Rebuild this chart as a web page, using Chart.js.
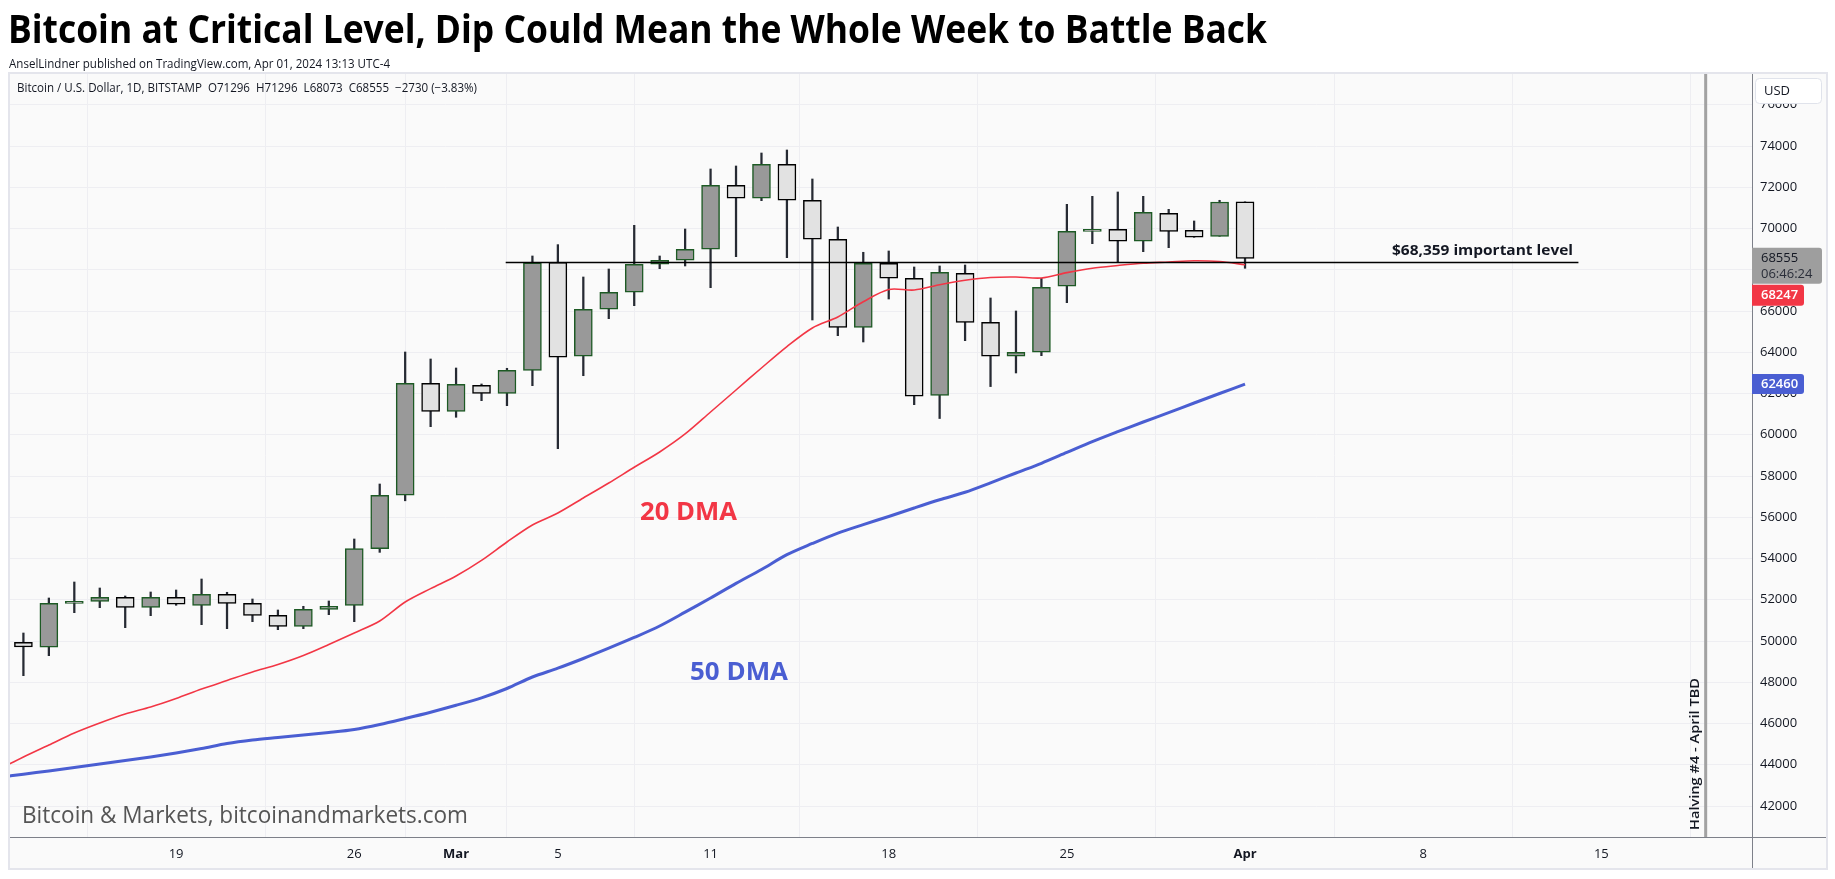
<!DOCTYPE html>
<html>
<head>
<meta charset="utf-8">
<script src="https://cdn.jsdelivr.net/npm/chart.js@4.4.1/dist/chart.umd.min.js"></script>
<style>
html, body { margin: 0; padding: 0; background: #fff; overflow: hidden; }
canvas { display: block; }
</style>
</head>
<body>
<canvas id="chart" width="1835" height="879"></canvas>
<script>
// daily candles, BTC/USD Bitstamp, Feb 13 -> Apr 1 2024 (x = day index)
const dates = ['Feb 13','Feb 14','Feb 15','Feb 16','Feb 17','Feb 18','Feb 19','Feb 20','Feb 21','Feb 22',
  'Feb 23','Feb 24','Feb 25','Feb 26','Feb 27','Feb 28','Feb 29','Mar 1','Mar 2','Mar 3','Mar 4','Mar 5',
  'Mar 6','Mar 7','Mar 8','Mar 9','Mar 10','Mar 11','Mar 12','Mar 13','Mar 14','Mar 15','Mar 16','Mar 17',
  'Mar 18','Mar 19','Mar 20','Mar 21','Mar 22','Mar 23','Mar 24','Mar 25','Mar 26','Mar 27','Mar 28',
  'Mar 29','Mar 30','Mar 31','Apr 1'];
const opens = [49939, 49697, 51830, 51927, 52121, 51636, 52121, 51733, 52267, 51830,
  51248, 50715, 51539, 51733, 54478, 57067, 62497, 61139, 62400, 62012, 63127, 68364,
  63806, 66085, 66909, 68267, 68461, 68994, 72097, 71467, 73115, 71370, 69479, 65212,
  68315, 67588, 61915, 67830, 65454, 63806, 64000, 67200, 69866, 69963, 69382,
  70740, 69914, 69624, 71296];
const highs = [50390, 52087, 52863, 52572, 52184, 52378, 52475, 53008, 52364, 52039,
  51505, 51685, 51942, 54948, 57614, 64014, 63675, 63239, 62464, 63224, 68670, 69220,
  67651, 68039, 70157, 68669, 69978, 72888, 73033, 73663, 73809, 72403, 70075, 68849,
  68912, 68136, 68185, 68233, 66633, 66003, 67588, 71175, 71563, 71773, 71563,
  70933, 70367, 71370, 71296];
const lows = [48320, 49290, 51375, 51617, 50647, 51229, 51733, 50793, 50599, 50938,
  50550, 50599, 51278, 50938, 54300, 56800, 60393, 60849, 61653, 61411, 62381, 59326,
  62865, 65629, 66259, 68054, 68185, 67132, 68635, 71351, 68587, 65566, 64805, 64500,
  66584, 61460, 60789, 64563, 62337, 62997, 63836, 66405, 69266, 68364, 68878,
  69072, 69576, 69624, 68073];
const closes = [49712, 51830, 51927, 52121, 51636, 52121, 51782, 52267, 51830, 51248,
  50715, 51539, 51685, 54478, 57067, 62497, 61139, 62449, 62012, 63127, 68340, 63758,
  66085, 66909, 68267, 68461, 68994, 72097, 71467, 73115, 71370, 69479, 65212, 68315,
  67588, 61867, 67879, 65454, 63806, 64000, 67151, 69866, 69963, 69382, 70788,
  69866, 69576, 71285, 68555];

// moving averages start one day earlier (Feb 12, x = -1)
const ma20 = [43762, 44378, 44960, 45542, 46027, 46463, 46802, 47215, 47675, 48087,
  48499, 48863, 49299, 49833, 50390, 50972, 51893, 52543, 53154, 53910, 54802, 55627,
  56209, 56936, 57663, 58424, 59166, 60039, 61105, 62172, 63239, 64276, 65178, 65712,
  66453, 67045, 67021, 67278, 67491, 67627, 67651, 67603, 67864, 68078, 68209, 68320,
  68378, 68441, 68403, 68247];
const ma50 = [43384, 43544, 43699, 43869, 44039, 44208, 44378, 44572, 44790, 45033,
  45202, 45324, 45445, 45566, 45712, 45954, 46245, 46550, 46885, 47248, 47699, 48257,
  48684, 49154, 49653, 50172, 50730, 51399, 52087, 52795, 53469, 54187, 54730, 55234,
  55646, 56039, 56451, 56849, 57212, 57668, 58148, 58618, 59142, 59665, 60150, 60621,
  61076, 61542, 62003, 62458];

const levelPrice = 68359;
const levelFrom = 18.95, levelTo = 61.1;
const halvingX = 66.1;

const xTickIdx = [6, 13, 17, 21, 27, 34, 41, 48, 55, 62];
const xTickLabels = ['19', '26', 'Mar', '5', '11', '18', '25', 'Apr', '8', '15'];
const yTicks = [42000, 44000, 46000, 48000, 50000, 52000, 54000, 56000, 58000,
  60000, 62000, 64000, 66000, 68000, 70000, 72000, 74000, 76000];

const FONT = "'Open Sans', sans-serif";
const UP_FILL = '#999999', UP_LINE = '#1d5a24';
const DN_FILL = '#e2e2e2', DN_LINE = '#000000';
const RED = '#f23645', BLUE = '#4a5ed2';

const last = closes.length - 1;
const chg = closes[last] - closes[last - 1];
const pct = (chg / closes[last - 1] * 100).toFixed(2);
const sign = v => (v < 0 ? '\u2212' + Math.abs(v) : '+' + v);

function fitText(ctx, text, x, y, font, width, color, align, baseline) {
    ctx.save();
    ctx.font = font;
    ctx.fillStyle = color;
    ctx.textAlign = 'left';
    ctx.textBaseline = baseline || 'alphabetic';
    const w = ctx.measureText(text).width;
    const sx = width ? width / w : 1;
    let left = x;
    if (align === 'right') left = x - w * sx;
    if (align === 'center') left = x - w * sx / 2;
    ctx.translate(left, y);
    ctx.scale(sx, 1);
    ctx.fillText(text, 0, 0);
    ctx.restore();
}

const backdrop = {
    id: 'backdrop',
    beforeDraw(chart) {
        const ctx = chart.ctx;
        ctx.save();
        ctx.fillStyle = '#ffffff';
        ctx.fillRect(0, 0, chart.width, chart.height);
        ctx.fillStyle = '#fafafa';
        ctx.fillRect(10, 74, 1816, 794);
        ctx.strokeStyle = '#e4e5ec';
        ctx.lineWidth = 2;
        ctx.strokeRect(9, 73, 1818, 796);
        ctx.restore();
    }
};

const overlay = {
    id: 'overlay',
    afterDraw(chart) {
        const ctx = chart.ctx;
        const xs = chart.scales.x, ys = chart.scales.y;
        const area = chart.chartArea;

        // axis borders
        ctx.save();
        ctx.fillStyle = '#7d8089';
        ctx.fillRect(area.right, area.top, 1, 868 - area.top);
        ctx.fillRect(10, area.bottom, 1816, 1);

        // halving marker
        const hx = xs.getPixelForValue(halvingX);
        ctx.fillStyle = '#a2a2a2';
        ctx.fillRect(hx - 1.5, area.top, 3, area.bottom - area.top);
        ctx.save();
        ctx.translate(hx - 10, 754);
        ctx.rotate(-Math.PI / 2);
        fitText(ctx, 'Halving #4 - April TBD', 0, 0, '600 13px ' + FONT, 152, '#131722', 'center', 'middle');
        ctx.restore();

        // level label
        const ly = ys.getPixelForValue(levelPrice);
        fitText(ctx, '$68,359 important level', 1573, ly - 7, 'bold 14px ' + FONT, 181, '#131722', 'right');

        // MA labels
        fitText(ctx, '20 DMA', 640, 520, 'bold 25px ' + FONT, 97, RED, 'left');
        fitText(ctx, '50 DMA', 690, 680, 'bold 25px ' + FONT, 98, BLUE, 'left');

        // watermark
        fitText(ctx, 'Bitcoin & Markets, bitcoinandmarkets.com', 22, 823, '23px ' + FONT, 446, '#555555', 'left');

        // header texts
        fitText(ctx, 'Bitcoin at Critical Level, Dip Could Mean the Whole Week to Battle Back', 8, 43,
            'bold 40px ' + FONT, 1259, '#000000', 'left');
        fitText(ctx, 'AnselLindner published on TradingView.com, Apr 01, 2024 13:13 UTC-4', 9, 68,
            '12px ' + FONT, 381, '#131722', 'left');
        const info = 'Bitcoin / U.S. Dollar, 1D, BITSTAMP  O' + opens[last] + '  H' + highs[last] +
            '  L' + lows[last] + '  C' + closes[last] + '  ' + sign(chg) + ' (' + sign(pct) + '%)';
        fitText(ctx, info, 17, 92, '12px ' + FONT, 460, '#131722', 'left');

        // price axis tags
        const ax = area.right;
        const cy = ys.getPixelForValue(closes[last]);
        ctx.fillStyle = '#9e9e9e';
        ctx.beginPath();
        ctx.roundRect(ax, cy - 10.5, 70, 36, [0, 3, 3, 0]);
        ctx.fill();
        fitText(ctx, String(closes[last]), ax + 9, cy, '13px ' + FONT, 0, '#131722', 'left', 'middle');
        fitText(ctx, '06:46:24', ax + 9, cy + 16, '13px ' + FONT, 0, '#2a2e39', 'left', 'middle');

        const rTop = cy + 26.5;
        ctx.fillStyle = RED;
        ctx.beginPath();
        ctx.roundRect(ax, rTop, 52, 21, [0, 3, 3, 0]);
        ctx.fill();
        fitText(ctx, String(ma20[ma20.length - 1]), ax + 9, rTop + 10.5, '600 13px ' + FONT, 0, '#ffffff', 'left', 'middle');

        const by = ys.getPixelForValue(ma50[ma50.length - 1]);
        ctx.fillStyle = BLUE;
        ctx.beginPath();
        ctx.roundRect(ax, by - 10, 52, 20, [0, 3, 3, 0]);
        ctx.fill();
        fitText(ctx, String(62460), ax + 9, by, '600 13px ' + FONT, 0, '#ffffff', 'left', 'middle');

        // currency box
        ctx.fillStyle = '#ffffff';
        ctx.strokeStyle = '#e0e3eb';
        ctx.lineWidth = 1;
        ctx.beginPath();
        ctx.roundRect(1755.5, 78.5, 66, 25, 4);
        ctx.fill();
        ctx.stroke();
        fitText(ctx, 'USD', 1764, 91, '13px ' + FONT, 0, '#131722', 'left', 'middle');
        ctx.restore();
    }
};

const up = opens.map((o, i) => closes[i] >= o);

new Chart(document.getElementById('chart'), {
    type: 'bar',
    data: {
        datasets: [
            {
                type: 'line',
                data: [{ x: levelFrom, y: levelPrice }, { x: levelTo, y: levelPrice }],
                borderColor: '#000000',
                borderWidth: 1.5,
                pointRadius: 0,
                order: 0
            },
            {
                type: 'line',
                data: ma20.map((v, i) => ({ x: i - 1, y: v })),
                borderColor: RED,
                borderWidth: 1.6,
                pointRadius: 0,
                tension: 0.3,
                order: 1
            },
            {
                type: 'line',
                data: ma50.map((v, i) => ({ x: i - 1, y: v })),
                borderColor: BLUE,
                borderWidth: 3,
                pointRadius: 0,
                tension: 0.3,
                order: 1
            },
            {
                data: dates.map((d, i) => ({ x: i, y: [opens[i], closes[i]] })),
                backgroundColor: up.map(u => (u ? UP_FILL : DN_FILL)),
                borderColor: up.map(u => (u ? UP_LINE : DN_LINE)),
                borderWidth: 1.5,
                borderSkipped: false,
                barThickness: 18,
                grouped: false,
                order: 2
            },
            {
                data: dates.map((d, i) => ({ x: i, y: [lows[i], highs[i]] })),
                backgroundColor: '#262a33',
                borderWidth: 0,
                barThickness: 1.6,
                grouped: false,
                order: 3
            }
        ]
    },
    options: {
        responsive: false,
        devicePixelRatio: 1,
        animation: false,
        layout: { padding: { left: 10, top: 74, right: 9, bottom: 11 } },
        plugins: { legend: { display: false }, tooltip: { enabled: false } },
        scales: {
            x: {
                type: 'linear',
                offset: false,
                min: -0.527,
                max: 67.92,
                afterBuildTicks: s => { s.ticks = xTickIdx.map(v => ({ value: v })); },
                afterFit: s => { s.height = 31; },
                grid: { color: '#eeeef2', drawTicks: false },
                border: { display: false },
                ticks: {
                    autoSkip: false,
                    maxRotation: 0,
                    padding: 9,
                    color: '#131722',
                    font: c => ({ family: FONT, size: 13,
                        weight: ['Mar', 'Apr'].includes(xTickLabels[c.index]) ? 'bold' : 'normal' }),
                    callback: (v, i) => xTickLabels[i]
                }
            },
            y: {
                position: 'right',
                min: 40499,
                max: 77493,
                afterBuildTicks: s => { s.ticks = yTicks.map(v => ({ value: v })); },
                afterFit: s => { s.width = 74; },
                grid: { color: '#eeeef2', drawTicks: false },
                border: { display: false },
                ticks: {
                    padding: 8,
                    color: '#131722',
                    font: { family: FONT, size: 13 },
                    callback: v => String(v)
                }
            }
        }
    },
    plugins: [backdrop, overlay]
});
</script>
</body>
</html>
